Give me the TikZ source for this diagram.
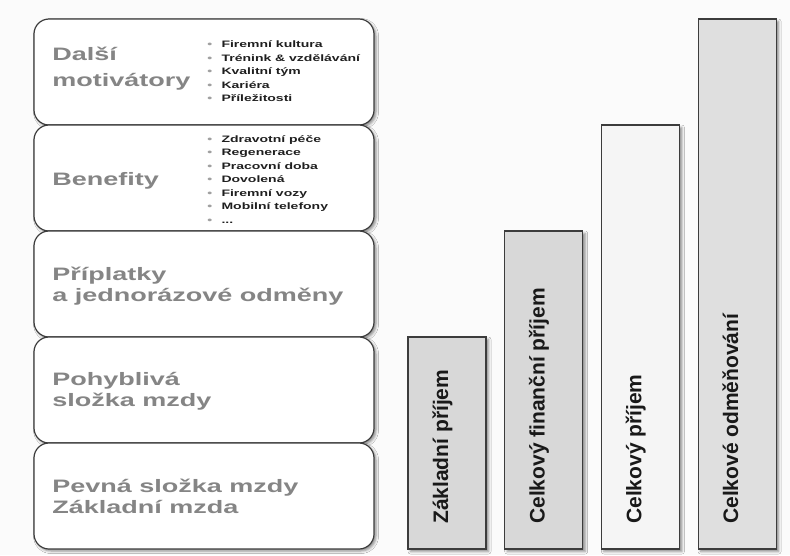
\documentclass[tikz,border=0pt]{standalone}
\usepackage{fontspec}
\setmainfont{Liberation Sans}
\usetikzlibrary{positioning,shadows.blur}
\definecolor{bggray}{HTML}{FBFBFB}
\definecolor{edge}{HTML}{3C3C3C}
\definecolor{labgray}{HTML}{858585}
\definecolor{dotgray}{HTML}{A0A0A0}
\definecolor{barA}{HTML}{D8D8D8}
\definecolor{barB}{HTML}{F5F5F5}
\definecolor{barC}{HTML}{DFDFDF}
\newcommand\itm{\makebox[9.5pt][l]{\textcolor{dotgray}{\textbullet}}}

\begin{document}
\begin{tikzpicture}[x=1pt, y=-1pt,
  box/.style={draw=edge, line width=1.2pt, fill=white, rounded corners=15pt,
    minimum width=340pt, minimum height=106pt, inner sep=0pt, outer sep=0pt,
    blur shadow={shadow xshift=2pt, shadow yshift=-2pt, shadow blur radius=2.5pt, shadow opacity=45}},
  bar/.style={draw=edge, line width=1.2pt, minimum width=78pt, inner sep=0pt, outer sep=0pt,
    anchor=south west,
    blur shadow={shadow xshift=2.5pt, shadow yshift=-2.5pt, shadow blur radius=2.5pt, shadow opacity=45}},
  lbl/.style={font=\bfseries\fontsize{18}{20.5}\selectfont, text=labgray, xscale=1.5,
    anchor=base west, align=left, inner sep=0pt},
  lst/.style={font=\bfseries\fontsize{9.33}{13.5}\selectfont, text=black!88, xscale=1.5,
    anchor=base west, align=left, inner sep=0pt},
  vtxt/.style={font=\bfseries\fontsize{21}{24}\selectfont, text=black!90, rotate=90,
    anchor=base west, inner sep=0pt},
  node distance=0pt]
\path[use as bounding box, fill=bggray] (0,0) rectangle (790,555);
% levy sloupec
\node[box, anchor=north west] (mot) at (34,19) {};
\node[box, below=of mot] (ben) {};
\node[box, below=of ben] (pri) {};
\node[box, below=of pri] (poh) {};
\node[box, below=of poh] (pev) {};
\node[lbl, font=\bfseries\fontsize{18}{26}\selectfont] (tmot) at ([xshift=18pt, yshift=-14pt]mot.west) {Další\\motivátory};
\node[lbl] (tben) at ([xshift=18pt, yshift=-7pt]ben.west) {Benefity};
\node[lbl] (tpri) at ([xshift=18pt, yshift=-17pt]pri.west) {Příplatky\\a jednorázové odměny};
\node[lbl] (tpoh) at ([xshift=18pt, yshift=-16pt]poh.west) {Pohyblivá\\složka mzdy};
\node[lbl] (tpev) at ([xshift=18pt, yshift=-17pt]pev.west) {Pevná složka mzdy\\Základní mzda};
\node[lst] (lmot) at ([xshift=173pt, yshift=-29.7pt]mot.west)
  {\itm Firemní kultura\\\itm Trénink \& vzdělávání\\\itm Kvalitní tým\\\itm Kariéra\\\itm Příležitosti};
\node[lst] (lben) at ([xshift=173pt, yshift=-45pt]ben.west)
  {\itm Zdravotní péče\\\itm Regenerace\\\itm Pracovní doba\\\itm Dovolená\\\itm Firemní vozy\\\itm Mobilní telefony\\\itm ...};
% sloupce
\node[bar, fill=barA, minimum height=212pt] (zak) at (408,549) {};
\node[bar, fill=barA, minimum height=318pt] (fin) at ([xshift=18.7pt]zak.south east) {};
\node[bar, fill=barB, minimum height=424pt] (cel) at ([xshift=18.7pt]fin.south east) {};
\node[bar, fill=barC, minimum height=530pt] (odm) at ([xshift=18.7pt]cel.south east) {};
\node[vtxt] (tzak) at ([xshift=1pt, yshift=25pt]zak.south) {Základní příjem};
\node[vtxt] (tfin) at ([xshift=1pt, yshift=25pt]fin.south) {Celkový finanční příjem};
\node[vtxt] (tcel) at ([xshift=1pt, yshift=25pt]cel.south) {Celkový příjem};
\node[vtxt] (todm) at ([xshift=1pt, yshift=25pt]odm.south) {Celkové odměňování};
\end{tikzpicture}
\end{document}
